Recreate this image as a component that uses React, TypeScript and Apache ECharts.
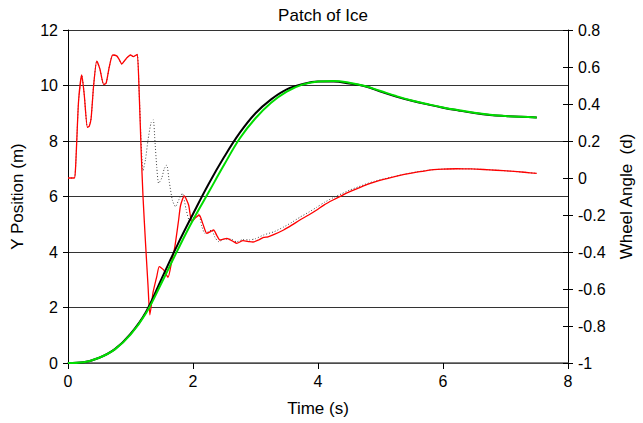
import React, { useEffect, useRef } from "react";
import * as echarts from "echarts";

const titleText = "Patch of Ice";
const xName = "Time (s)";
const yLeftName = "Y Position (m)";
const yRightName = "Wheel Angle  (d)";

// Y position (m) — reference trajectory (black)
const blackY: number[][] = [
  [0, 0], [0.25, 0.03], [0.5, 0.19], [0.75, 0.5], [1.0, 1.05], [1.25, 1.85], [1.5, 3.05],
  [1.75, 4.25], [2.0, 5.37], [2.25, 6.45], [2.5, 7.43], [2.75, 8.3], [3.0, 9.0], [3.25, 9.5],
  [3.5, 9.86], [3.75, 10.05], [4.0, 10.14], [4.25, 10.14], [4.5, 10.07], [4.75, 9.97],
  [5.0, 9.78], [5.25, 9.6], [5.5, 9.45], [5.75, 9.32], [6.0, 9.2], [6.25, 9.1], [6.5, 9.01],
  [6.75, 8.94], [7.0, 8.9], [7.25, 8.87], [7.5, 8.85],
];

// Y position (m) — green
const greenY: number[][] = [
  [0, 0], [0.25, 0.03], [0.5, 0.19], [0.75, 0.49], [1.0, 1.02], [1.25, 1.8], [1.5, 2.9],
  [1.75, 4.05], [2.0, 5.15], [2.25, 6.15], [2.5, 7.15], [2.75, 8.1], [3.0, 8.82], [3.25, 9.38],
  [3.5, 9.78], [3.75, 10.03], [4.0, 10.14], [4.25, 10.16], [4.5, 10.1], [4.75, 9.98],
  [5.0, 9.8], [5.25, 9.62], [5.5, 9.46], [5.75, 9.33], [6.0, 9.21], [6.25, 9.11], [6.5, 9.02],
  [6.75, 8.95], [7.0, 8.9], [7.25, 8.87], [7.5, 8.85],
];

// Wheel angle — red
const redAngle: number[][] = [
  [0, 0], [0.1, 0], [0.12, 0.05], [0.14, 0.2], [0.17, 0.42], [0.22, 0.557], [0.26, 0.45],
  [0.31, 0.274], [0.34, 0.28], [0.37, 0.323], [0.41, 0.5], [0.46, 0.632], [0.51, 0.59],
  [0.57, 0.506], [0.61, 0.512], [0.66, 0.6], [0.715, 0.665], [0.78, 0.66], [0.82, 0.64],
  [0.86, 0.616], [0.93, 0.645], [1.0, 0.665], [1.045, 0.656], [1.08, 0.662], [1.11, 0.668],
  [1.14, 0.45], [1.17, 0.15], [1.2, -0.1], [1.24, -0.35], [1.28, -0.58], [1.31, -0.74],
  [1.36, -0.62], [1.42, -0.533], [1.46, -0.479], [1.53, -0.497], [1.6, -0.537], [1.66, -0.45],
  [1.71, -0.371], [1.77, -0.227], [1.8, -0.15], [1.86, -0.097], [1.93, -0.146], [1.98, -0.236],
  [2.04, -0.215], [2.1, -0.2], [2.16, -0.25], [2.22, -0.299], [2.28, -0.29], [2.33, -0.281],
  [2.38, -0.31], [2.43, -0.335], [2.49, -0.33], [2.54, -0.326], [2.6, -0.335], [2.65, -0.344],
  [2.7, -0.353], [2.8, -0.339], [2.9, -0.344], [2.96, -0.346], [3.05, -0.335], [3.13, -0.321],
  [3.2, -0.318], [3.3, -0.305], [3.45, -0.281], [3.58, -0.255], [3.71, -0.227], [3.85, -0.2],
  [3.98, -0.173], [4.1, -0.145], [4.24, -0.119], [4.38, -0.095], [4.51, -0.074], [4.65, -0.054],
  [4.78, -0.036], [4.9, -0.022], [5.05, -0.007], [5.18, 0.004], [5.31, 0.014], [5.45, 0.024],
  [5.58, 0.032], [5.72, 0.039], [5.85, 0.045], [6.0, 0.048], [6.22, 0.05], [6.45, 0.049],
  [6.65, 0.046], [6.85, 0.042], [7.08, 0.037], [7.3, 0.031], [7.5, 0.025],
];

// Wheel angle — dotted black
const dottedAngle: number[][] = [
  [0, 0], [0.1, 0], [0.12, 0.05], [0.14, 0.2], [0.17, 0.42], [0.22, 0.557], [0.26, 0.45],
  [0.31, 0.274], [0.34, 0.28], [0.37, 0.323], [0.41, 0.5], [0.46, 0.632], [0.51, 0.59],
  [0.57, 0.506], [0.61, 0.512], [0.66, 0.6], [0.715, 0.665], [0.78, 0.66], [0.82, 0.64],
  [0.86, 0.616], [0.93, 0.645], [1.0, 0.665], [1.045, 0.656], [1.08, 0.662], [1.11, 0.668],
  [1.14, 0.45], [1.17, 0.2], [1.2, 0.04], [1.24, 0.1], [1.28, 0.205], [1.33, 0.3],
  [1.365, 0.314], [1.39, 0.205], [1.42, 0.06], [1.45, -0.029], [1.5, 0.0], [1.54, 0.05],
  [1.58, 0.07], [1.62, -0.02], [1.67, -0.12], [1.72, -0.155], [1.77, -0.12], [1.83, -0.083],
  [1.89, -0.17], [1.95, -0.236], [2.02, -0.21], [2.09, -0.195], [2.14, -0.26], [2.19, -0.299],
  [2.25, -0.29], [2.3, -0.281], [2.35, -0.32], [2.41, -0.344], [2.5, -0.33], [2.6, -0.33],
  [2.7, -0.345], [2.8, -0.333], [2.9, -0.335], [3.0, -0.328], [3.13, -0.308], [3.3, -0.29],
  [3.45, -0.265], [3.58, -0.24], [3.71, -0.212], [3.85, -0.185], [3.98, -0.158], [4.1, -0.132],
  [4.24, -0.107], [4.38, -0.085], [4.51, -0.065], [4.65, -0.047], [4.78, -0.031], [4.9, -0.018],
  [5.05, -0.005], [5.18, 0.005], [5.31, 0.015], [5.45, 0.025], [5.58, 0.033], [5.72, 0.04],
  [5.85, 0.045], [6.0, 0.048], [6.22, 0.05], [6.45, 0.049], [6.65, 0.046], [6.85, 0.042],
  [7.08, 0.037], [7.3, 0.031], [7.5, 0.025],
];

const FONT = "'Liberation Sans', Arial, Helvetica, sans-serif";

const fmtAngle = (v: number) => {
  const r = Math.round(v * 10) / 10;
  return Object.is(r, -0) ? "0" : String(r);
};

export default function App() {
  const ref = useRef<HTMLDivElement>(null);
  useEffect(() => {
    if (!ref.current) return;
    const chart = echarts.init(ref.current, undefined, { renderer: "svg" });
    const labelStyle = { color: "#000", fontSize: 16, fontFamily: FONT };
    const nameStyle = { color: "#000", fontSize: 17, fontFamily: FONT };
    chart.setOption({
      animation: false,
      backgroundColor: "#fff",
      textStyle: { fontFamily: FONT },
      title: {
        text: titleText,
        left: 318,
        top: 2,
        textAlign: "center",
        textStyle: { color: "#000", fontSize: 17, fontWeight: "normal", fontFamily: FONT },
      },
      grid: { left: 68, right: 75, top: 30, bottom: 60, containLabel: false },
      xAxis: {
        type: "value",
        min: 0,
        max: 8,
        interval: 2,
        name: xName,
        nameLocation: "middle",
        nameGap: 37,
        nameTextStyle: nameStyle,
        axisLine: { show: true, onZero: false, lineStyle: { color: "#555", width: 1.5 } },
        axisTick: { show: true, inside: false, length: 6, lineStyle: { color: "#000" } },
        axisLabel: { ...labelStyle, margin: 10 },
        splitLine: { show: false },
      },
      yAxis: [
        {
          type: "value",
          position: "left",
          min: 0,
          max: 12,
          interval: 2,
          name: yLeftName,
          nameLocation: "middle",
          nameGap: 42,
          nameRotate: 90,
          nameTextStyle: nameStyle,
          axisLine: { show: true, lineStyle: { color: "#000", width: 1 } },
          axisTick: { show: true, inside: false, length: 5, lineStyle: { color: "#000" } },
          axisLabel: { ...labelStyle, margin: 10 },
          splitLine: { show: true, lineStyle: { color: "#333", width: 1 } },
        },
        {
          type: "value",
          position: "right",
          min: -1,
          max: 0.8,
          interval: 0.2,
          name: yRightName,
          nameLocation: "middle",
          nameGap: 50,
          nameRotate: 90,
          nameTextStyle: nameStyle,
          axisLine: { show: true, lineStyle: { color: "#000", width: 1 } },
          axisTick: { show: true, inside: false, length: 5, lineStyle: { color: "#000" } },
          axisLabel: { ...labelStyle, margin: 10, formatter: fmtAngle },
          splitLine: { show: false },
        },
        {
          type: "value",
          position: "right",
          min: -1,
          max: 0.8,
          interval: 0.2,
          axisLine: { show: false },
          axisTick: { show: true, inside: true, length: 5, lineStyle: { color: "#000" } },
          axisLabel: { show: false },
          splitLine: { show: false },
        },
      ],
      series: [
        {
          type: "line",
          yAxisIndex: 1,
          data: dottedAngle,
          showSymbol: false,
          smooth: 0.2,
          lineStyle: { color: "#444", width: 1, type: [1, 2] },
          z: 2,
        },
        {
          type: "line",
          yAxisIndex: 1,
          data: redAngle,
          showSymbol: false,
          smooth: 0.2,
          lineStyle: { color: "#ff0000", width: 1.3 },
          z: 3,
        },
        {
          type: "line",
          yAxisIndex: 0,
          data: blackY,
          showSymbol: false,
          smooth: 0.4,
          lineStyle: { color: "#000", width: 2 },
          z: 4,
        },
        {
          type: "line",
          yAxisIndex: 0,
          data: greenY,
          showSymbol: false,
          smooth: 0.4,
          lineStyle: { color: "#00dd00", width: 2 },
          z: 5,
        },
      ],
    });
    return () => chart.dispose();
  }, []);
  return <div ref={ref} style={{ width: 643, height: 423, position: "fixed", left: 0, top: 0 }} />;
}
